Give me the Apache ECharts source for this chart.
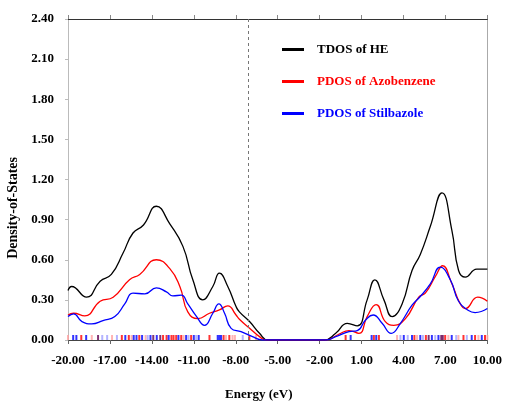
<!DOCTYPE html>
<html>
<head>
<meta charset="utf-8">
<script src="https://cdn.jsdelivr.net/npm/echarts@6/dist/echarts.min.js"></script>
<style>
  html, body { margin: 0; padding: 0; background: #fff; }
  #chart { width: 505px; height: 407px; }
</style>
</head>
<body>
<div id="chart"></div>
<script>
// energy grid (eV) and densities
const tdosEnergy = [-20, -19.74, -18.67, -17.7, -16.9, -16.06, -15.35, -14.6, -13.68, -12.73, -11.78, -11.07, -10.36, -9.64, -9.17, -8.57, -7.98, -7.74, -7.03, -6.3, -5.7, -1.68, -0.85, -0.02, 0.69, 1.4, 1.95, 2.6, 3.19, 3.9, 4.61, 5.2, 5.92, 6.75, 7.46, 7.94, 8.42, 9.24, 10];
const tdosValues = [0.37, 0.40, 0.32, 0.44, 0.49, 0.65, 0.80, 0.86, 1.00, 0.87, 0.70, 0.45, 0.30, 0.40, 0.50, 0.40, 0.25, 0.21, 0.14, 0.05, 0, 0, 0.05, 0.125, 0.105, 0.30, 0.45, 0.30, 0.175, 0.27, 0.52, 0.64, 0.85, 1.10, 0.82, 0.52, 0.47, 0.53, 0.53];

const azoEnergy = [-20, -19.6, -18.8, -17.7, -16.77, -15.6, -14.87, -13.68, -12.73, -12.0, -11.43, -10.7, -9.88, -9.17, -8.57, -7.98, -7.74, -7.03, -6.3, -5.8, -1.54, -0.6, 0.1, 0.81, 1.4, 2.04, 2.7, 3.3, 4.14, 5.09, 5.56, 6.28, 6.8, 7.46, 8.06, 8.42, 9.31, 10];
const azoValues = [0.187, 0.20, 0.18, 0.29, 0.32, 0.45, 0.49, 0.60, 0.535, 0.40, 0.21, 0.16, 0.20, 0.225, 0.255, 0.187, 0.155, 0.09, 0.025, 0, 0, 0.045, 0.07, 0.05, 0.175, 0.265, 0.137, 0.11, 0.16, 0.32, 0.35, 0.475, 0.555, 0.42, 0.27, 0.235, 0.32, 0.29];

const stilEnergy = [-20, -19.6, -19.0, -18.3, -17.5, -16.65, -15.94, -15.35, -14.5, -13.68, -12.96, -12.5, -11.9, -11.43, -10.8, -10.24, -9.64, -9.21, -8.8, -8.33, -7.62, -6.8, -6.1, -1.54, -0.85, 0.1, 0.69, 1.29, 1.83, 2.47, 3.12, 3.78, 4.61, 5.2, 5.92, 6.63, 7.35, 7.94, 8.65, 9.12, 10];
const stilValues = [0.175, 0.195, 0.137, 0.12, 0.145, 0.175, 0.27, 0.35, 0.345, 0.39, 0.36, 0.33, 0.335, 0.27, 0.175, 0.11, 0.20, 0.27, 0.20, 0.087, 0.062, 0.025, 0, 0, 0.025, 0.062, 0.07, 0.15, 0.187, 0.125, 0.05, 0.125, 0.26, 0.325, 0.42, 0.545, 0.45, 0.29, 0.22, 0.205, 0.235];

// eigenvalue ticks along the bottom
const rugRed = [-19.05, -16.15, -15.65, -14.9, -13.2, -12.95, -12.6, -12.45, -12.26, -11.9, -11.19, -9.88, -8.87, -8.46, -7.03, -0.14, 1.88, 2.24, 4.78, 5.6, 6.98, 8.29, 9.12, 9.83];
const rugBlue = [-19.63, -19.4, -18.7, -15.9, -15.3, -15.1, -14.7, -14.1, -13.65, -12.8, -12.1, -11.55, -11.0, -10.65, -9.29, -9.17, -9.05, 0.22, 1.72, 2.05, 4.02, 4.61, 5.2, 6.03, 6.5, 7.45, 8.88, 9.6];
const rugPink = [-20, -18.3, -16.85, -15.45, -14.45, -11.73, -8.7, -8.23, -8.06, -6.55, 3.54, 4.97, 7.21, 7.93, 9.36, 10];
const rugLightBlue = [-17.55, -17.2, -16.5, -14.3, -11.38, -10.83, -7.5, 3.78, 4.3, 5.39, 6.27, 7.77, 8.53];
const rugDark = [-17.85, -13.9, -13.4, 5.8, 6.7, 6.81];

const fermiLevel = -7.1;
const seriesNames = ["TDOS of HE", "PDOS of Azobenzene", "PDOS of Stilbazole"];
const xTicks = { min: -20, max: 10, interval: 3 };
const yTicks = { min: 0, max: 2.4, interval: 0.3 };

const font = "'Liberation Serif', 'Times New Roman', serif";
const pairs = (xs, ys) => xs.map((x, i) => [x, ys[i]]);

function curve(name, color, xs, ys, extra) {
  return Object.assign({
    name,
    type: "line",
    smooth: 0.5,
    symbol: "none",
    data: pairs(xs, ys),
    lineStyle: { color, width: 1.3 },
    itemStyle: { color },
    z: 3,
  }, extra || {});
}

function rug(color, xs) {
  return {
    type: "scatter",
    symbol: "rect",
    symbolSize: [2, 5],
    symbolOffset: [0, -2.5],
    silent: true,
    data: xs.map((x) => [x, 0]),
    itemStyle: { color },
    z: 2,
  };
}

const chart = echarts.init(document.getElementById("chart"));
chart.setOption({
  backgroundColor: "#fff",
  animation: false,
  grid: { left: 68, right: 15, top: 19, bottom: 67 },
  legend: {
    orient: "vertical",
    left: 277,
    top: 38,
    icon: "rect",
    itemWidth: 22,
    itemHeight: 3,
    itemGap: 19,
    textStyle: { fontFamily: font, fontWeight: "bold", fontSize: 13, padding: [0, 0, 0, 8] },
    data: [
      { name: seriesNames[0], textStyle: { color: "#000" } },
      { name: seriesNames[1], textStyle: { color: "#ff0000" } },
      { name: seriesNames[2], textStyle: { color: "#0000ff" } },
    ],
  },
  xAxis: [
    {
      type: "value",
      min: xTicks.min, max: xTicks.max, interval: xTicks.interval,
      axisLine: { onZero: false, lineStyle: { color: "#444", width: 1 } },
      axisTick: { length: 4, lineStyle: { color: "#666" } },
      axisLabel: {
        color: "#000", fontFamily: font, fontWeight: "bold", fontSize: 13, margin: 14,
        formatter: (v) => v.toFixed(2),
      },
      splitLine: { show: false },
    },
    {
      type: "value",
      position: "top",
      min: xTicks.min, max: xTicks.max, interval: xTicks.interval,
      axisLine: { onZero: false, lineStyle: { color: "#333", width: 1 } },
      axisTick: { show: true, length: 4, lineStyle: { color: "#888" } },
      axisLabel: { show: false },
      splitLine: { show: false },
    },
  ],
  yAxis: [
    {
      type: "value",
      min: yTicks.min, max: yTicks.max, interval: yTicks.interval,
      axisLine: { show: true, onZero: false, lineStyle: { color: "#bbb" } },
      axisTick: { show: true, length: 3, lineStyle: { color: "#bbb" } },
      axisLabel: {
        color: "#000", fontFamily: font, fontWeight: "bold", fontSize: 13, margin: 14,
        formatter: (v) => v.toFixed(2),
      },
      splitLine: { show: false },
    },
    {
      type: "value",
      position: "right",
      min: yTicks.min, max: yTicks.max, interval: yTicks.interval,
      axisLine: { show: true, onZero: false, lineStyle: { color: "#aaa" } },
      axisTick: { show: false },
      axisLabel: { show: false },
      splitLine: { show: false },
    },
  ],
  graphic: [
    {
      type: "text",
      left: 6, top: 157,
      rotation: Math.PI / 2,
      originX: 0, originY: 0,
      style: { text: "Density-of-States", font: `bold 14px ${font}`, fill: "#000" },
    },
    {
      type: "text",
      left: 225, top: 388,
      style: { text: "Energy (eV)", font: `bold 13px ${font}`, fill: "#000" },
    },
  ],
  series: [
    rug("#ffa0a0", rugPink),
    rug("#a0a0ff", rugLightBlue),
    rug("#ff0000", rugRed),
    rug("#0000ff", rugBlue),
    rug("#600050", rugDark),
    curve(seriesNames[0], "#000", tdosEnergy, tdosValues, {
      markLine: {
        silent: true,
        symbol: "none",
        label: { show: false },
        lineStyle: { color: "#777", type: [3, 3], width: 1 },
        data: [{ xAxis: fermiLevel }],
      },
    }),
    curve(seriesNames[1], "#ff0000", azoEnergy, azoValues),
    curve(seriesNames[2], "#0000ff", stilEnergy, stilValues),
  ],
});
</script>
</body>
</html>
